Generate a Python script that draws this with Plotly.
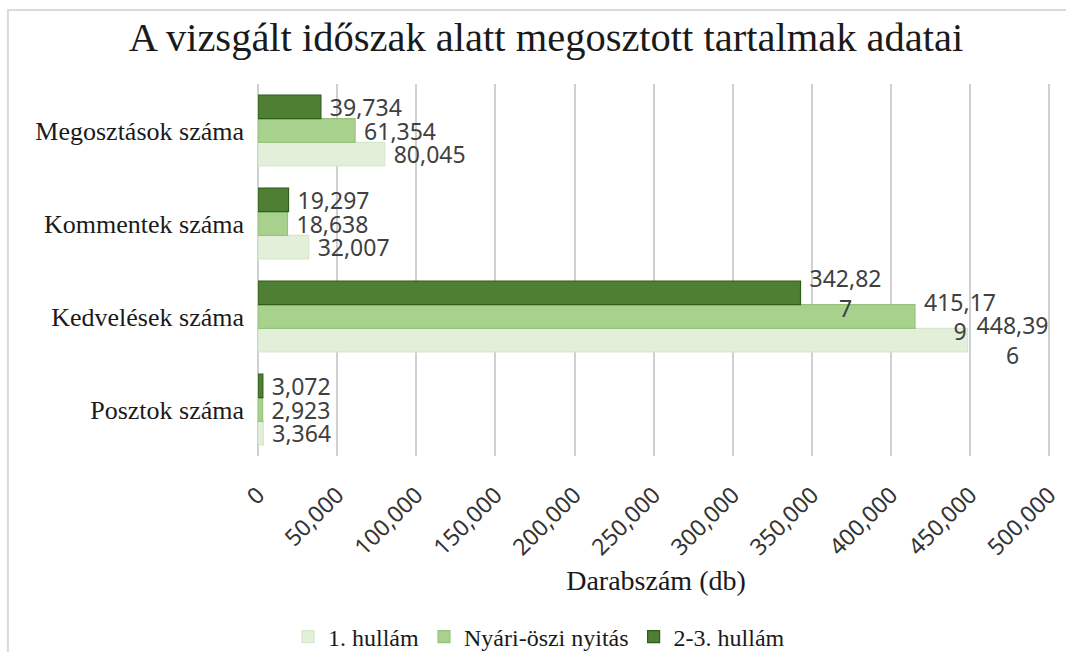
import plotly.graph_objects as go

# Data
categories = ["Posztok száma", "Kedvelések száma", "Kommentek száma", "Megosztások száma"]
series_names = ["1. hullám", "Nyári-öszi nyitás", "2-3. hullám"]
wave1 = [3364, 448396, 32007, 80045]
summer = [2923, 415179, 18638, 61354]
wave23 = [3072, 342827, 19297, 39734]
tick_values = [0, 50000, 100000, 150000, 200000, 250000, 300000, 350000, 400000, 450000, 500000]

fill_colors = ["#e2efd9", "#a9d18e", "#4f7f33"]
line_colors = ["#d6e7cb", "#98c27b", "#2f5d1c"]

NB = "\u00a0"


def label(v):
    s = f"{v:,}"
    if len(s) > 6:  # Excel wrapped the long labels
        return NB + s[:6] + "<br>" + NB + s[6:]
    return NB + s


fig = go.Figure()
for name, vals, fc, lc in zip(series_names, [wave1, summer, wave23], fill_colors, line_colors):
    fig.add_trace(go.Bar(
        y=categories, x=vals, name=name, orientation="h",
        marker=dict(color=fc, line=dict(color=lc, width=1.2)),
        text=[label(v) for v in vals], textposition="outside",
        textfont=dict(family="Noto Sans", size=23, color="#404040"),
        cliponaxis=False, constraintext="none", hoverinfo="x+name",
    ))

X_MAX = 503000
plot_w = 791 * X_MAX / 500000

fig.update_layout(
    width=1066, height=652,
    margin=dict(l=258, r=1066 - 258 - plot_w, t=84, b=196),
    paper_bgcolor="white", plot_bgcolor="white",
    barmode="group", bargap=0.24, bargroupgap=0.0,
    title=dict(text="A vizsgált időszak alatt megosztott tartalmak adatai",
               x=546 / 1066, xanchor="center", y=1 - 37 / 652, yanchor="middle",
               font=dict(family="Liberation Serif", size=40.5, color="#1a1a1a")),
    xaxis=dict(range=[0, X_MAX], tickvals=tick_values, tickformat=",",
               tickangle=-45, showgrid=True, gridcolor="#d0d0d0", gridwidth=1.5,
               zeroline=True, zerolinecolor="#d0d0d0", zerolinewidth=1.5,
               showline=False, ticks="", ticklabelstandoff=20, automargin=False,
               tickfont=dict(family="Noto Sans", size=23, color="#333333"),
               title=dict(text="Darabszám (db)", standoff=9,
                          font=dict(family="Liberation Serif", size=28, color="#1a1a1a"))),
    yaxis=dict(categoryorder="array", categoryarray=categories, showgrid=False,
               showline=False, zeroline=False, ticks="", ticklabelstandoff=13,
               automargin=False,
               tickfont=dict(family="Liberation Serif", size=26, color="#1a1a1a")),
    legend=dict(orientation="h", x=539 / 1066, xref="container", xanchor="center",
                y=1 - 637 / 652, yref="container", yanchor="middle",
                font=dict(family="Liberation Serif", size=24, color="#1a1a1a"),
                traceorder="normal"),
    shapes=[dict(type="rect", xref="paper", yref="paper",
                 x0=(8 - 258) / plot_w, x1=(1075 - 258) / plot_w,
                 y0=(456 - 665) / 372, y1=(456 - 10) / 372,
                 line=dict(color="#dadada", width=2), fillcolor="rgba(0,0,0,0)",
                 layer="below")],
)

fig.write_html("out.html", config={"displayModeBar": False},
               post_script="document.body.style.margin='0';")
